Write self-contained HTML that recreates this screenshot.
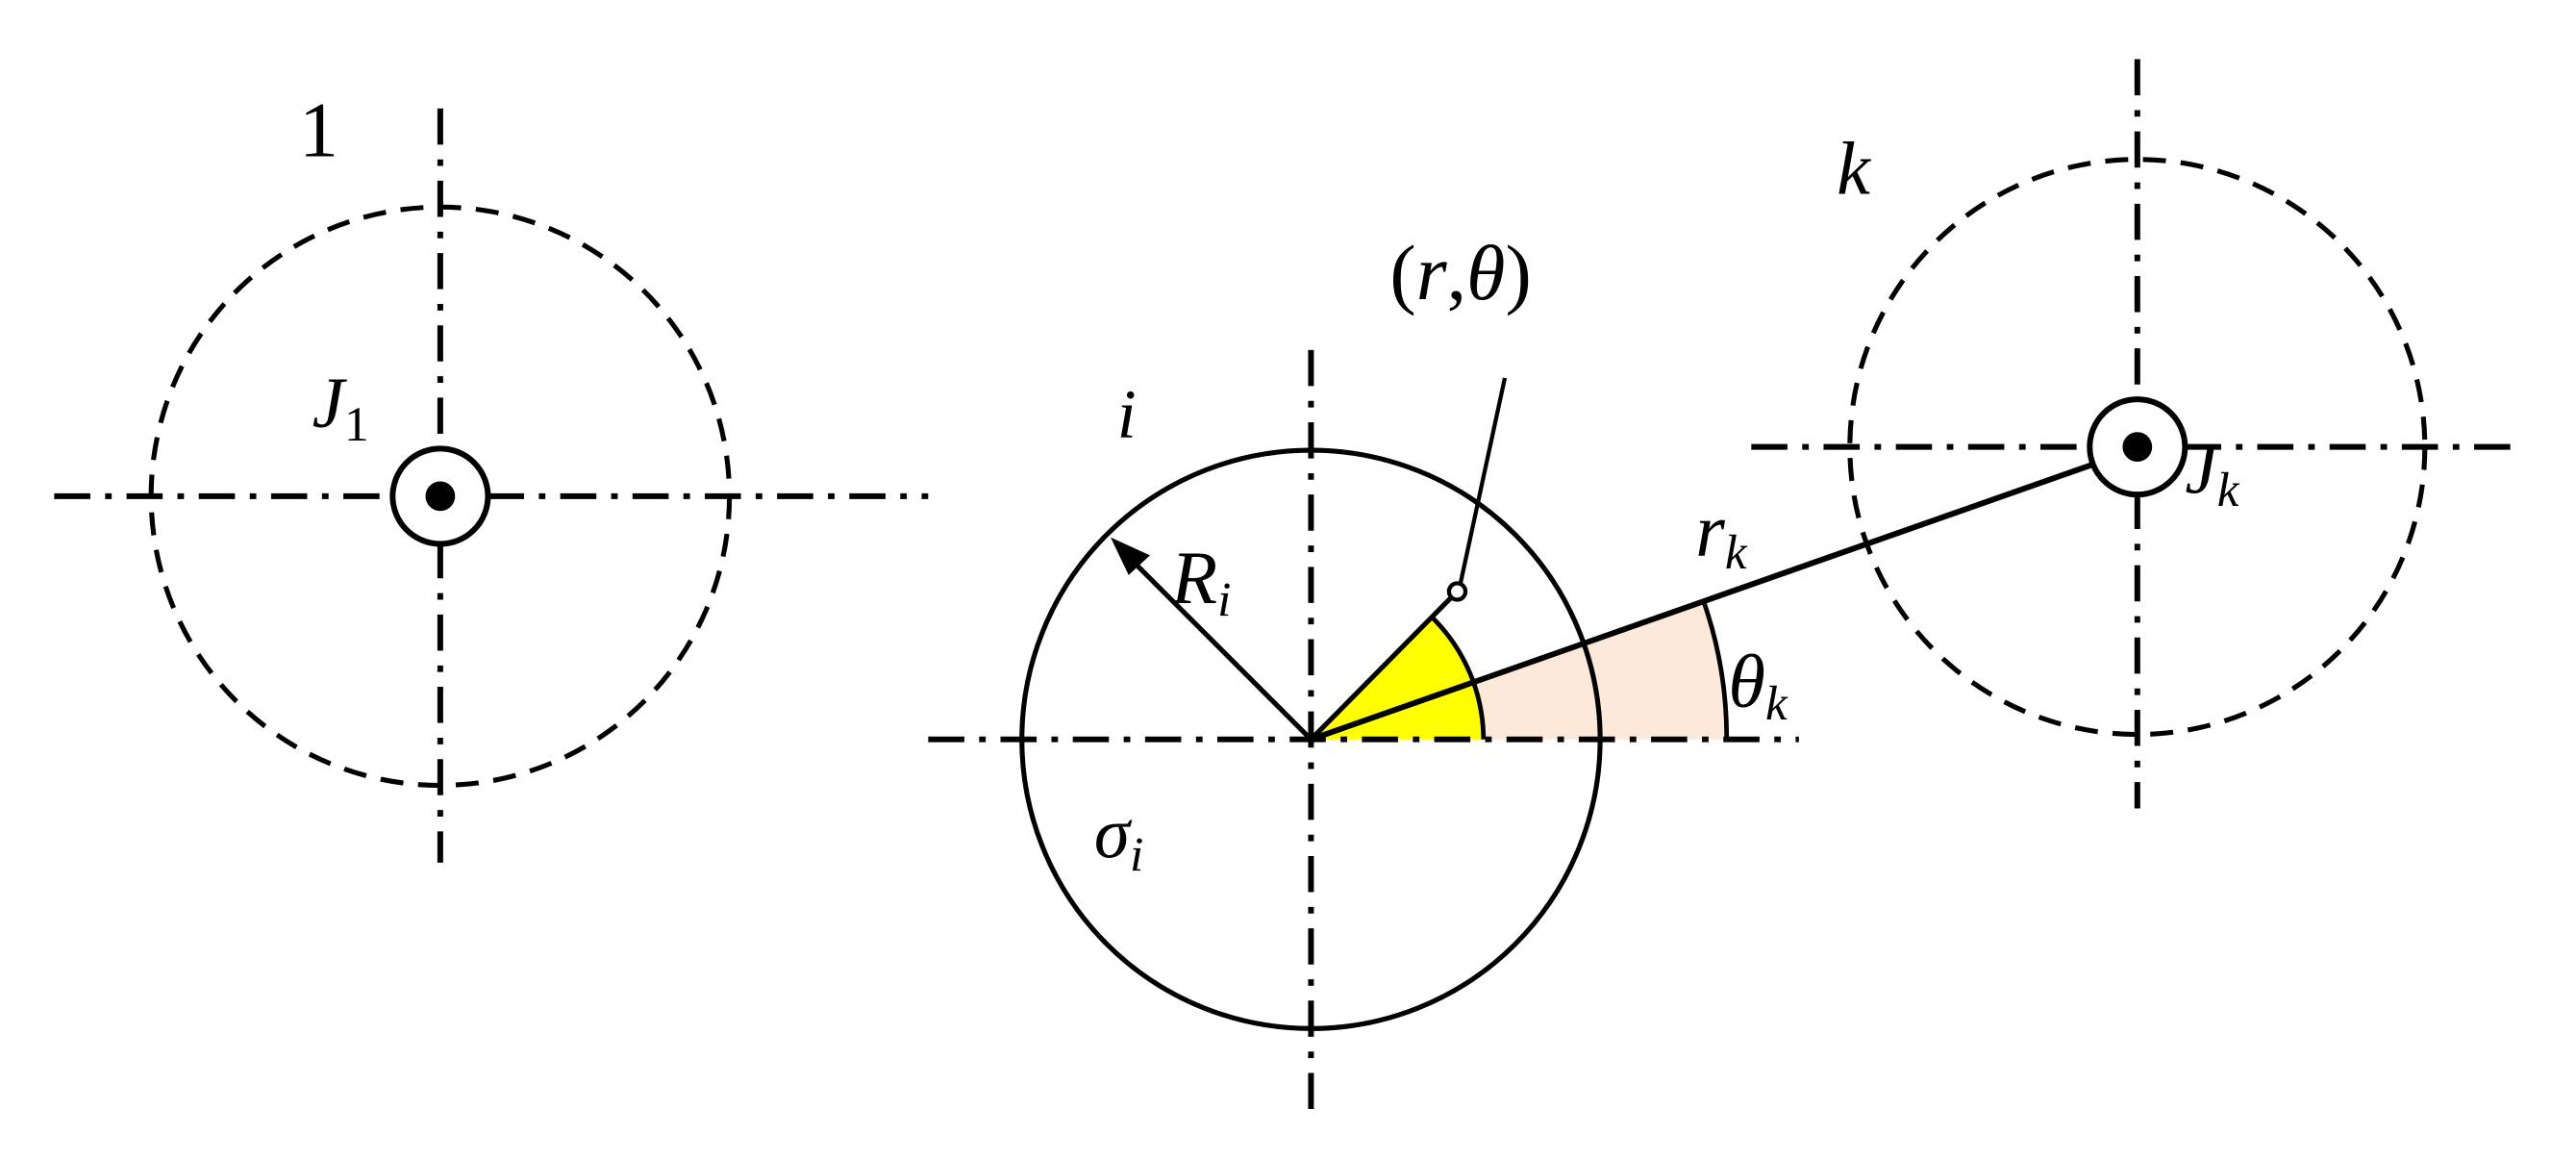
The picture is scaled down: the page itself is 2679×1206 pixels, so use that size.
<!DOCTYPE html>
<html><head><style>html,body{margin:0;padding:0;background:#fff}svg{display:block}text{font-family:"Liberation Serif",serif;fill:#000}.it{font-style:italic}</style></head>
<body>
<svg width="2679" height="1206" viewBox="0 0 1568 706" preserveAspectRatio="none" xmlns="http://www.w3.org/2000/svg">
<g stroke="#000" fill="none">
<path d="M798,450 L1051,450 A253,253 0 0 0 1037,366 Z" fill="#fde9da" stroke="none"/>
<path d="M798,450 L903,450 A105,105 0 0 0 872,376 Z" fill="#ffff00" stroke="none"/>
<path d="M903,450 A105,105 0 0 0 872,376" stroke-width="2.8"/>
<path d="M1051,450 A253,253 0 0 0 1037,366" stroke-width="2.8"/>
<g stroke-width="3.5" stroke-dasharray="22 9 4 9">
<line x1="268" y1="66" x2="268" y2="525"/>
<line x1="33" y1="302" x2="565" y2="302"/>
<line x1="798" y1="213" x2="798" y2="680"/>
<line x1="565" y1="450" x2="1095" y2="450"/>
<line x1="1301" y1="36" x2="1301" y2="492"/>
<line x1="1066" y1="272" x2="1535" y2="272"/>
</g>
<circle cx="268" cy="302" r="176" stroke-width="3" stroke-dasharray="14 9"/>
<circle cx="1301" cy="272" r="175" stroke-width="3" stroke-dasharray="14 9"/>
<circle cx="798" cy="450" r="176" stroke-width="3"/>
<circle cx="268" cy="302" r="29" fill="#fff" stroke-width="3.5"/>
<circle cx="268" cy="302" r="9" fill="#000" stroke="none"/>
<circle cx="1301" cy="272" r="29" fill="#fff" stroke-width="3.5"/>
<circle cx="1301" cy="272" r="9" fill="#000" stroke="none"/>
<line x1="798" y1="450" x2="1273" y2="283" stroke-width="3.5"/>
<line x1="798" y1="450" x2="883" y2="364" stroke-width="3"/>
<line x1="889" y1="355" x2="916" y2="230" stroke-width="2.5"/>
<circle cx="887" cy="360" r="5" fill="#fff" stroke-width="2.5"/>
<line x1="798" y1="450" x2="684" y2="336" stroke-width="3"/>
<path d="M676,327 L700,338 L687,350 Z" fill="#000" stroke="none"/>
</g>
<text x="182" y="95" font-size="48">1</text>
<text x="190" y="260" font-size="44" class="it">J<tspan font-size="30" font-style="normal" dy="8">1</tspan></text>
<text x="680" y="266" font-size="42" class="it">i</text>
<text x="713" y="367" font-size="46" class="it">R<tspan font-size="30" dy="8">i</tspan></text>
<text x="666" y="522" font-size="44" class="it">σ<tspan font-size="30" dy="8">i</tspan></text>
<text x="846" y="182" font-size="48">(<tspan class="it">r</tspan>,<tspan class="it">θ</tspan>)</text>
<text x="1032" y="338" font-size="46" class="it">r<tspan font-size="30" dy="8">k</tspan></text>
<text x="1052" y="430" font-size="46" class="it">θ<tspan font-size="30" dy="8">k</tspan></text>
<text x="1118" y="118" font-size="46" class="it">k</text>
<text x="1330" y="300" font-size="44" class="it">J<tspan font-size="30" dy="8">k</tspan></text>
</svg>
</body></html>
